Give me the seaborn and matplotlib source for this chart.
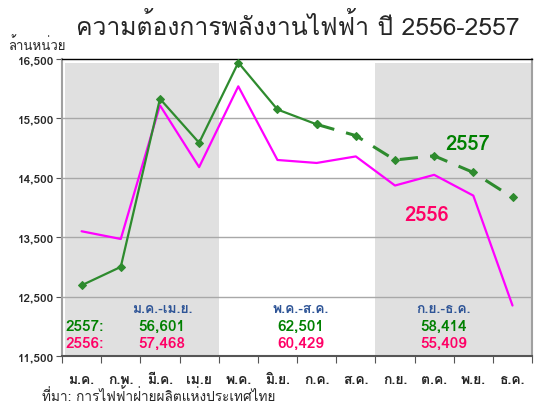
import pandas as pd
import seaborn as sns
import matplotlib
matplotlib.use("Agg")
import matplotlib.pyplot as plt
from matplotlib import font_manager, ft2font

months = ["ม.ค.", "ก.พ.", "มี.ค.", "เม.ย", "พ.ค.", "มิ.ย.", "ก.ค.", "ส.ค.",
          "ก.ย.", "ต.ค.", "พ.ย.", "ธ.ค."]
y2557 = [12690, 13000, 15830, 15090, 16440, 15650, 15400, 15210,
         14800, 14870, 14590, 14170]
y2556 = [13600, 13470, 15720, 14680, 16040, 14800, 14750, 14860,
         14370, 14550, 14200, 12350]
periods = ["ม.ค.-เม.ย.", "พ.ค.-ส.ค.", "ก.ย.-ธ.ค."]
sum2557 = ["56,601", "62,501", "58,414"]
sum2556 = ["57,468", "60,429", "55,409"]
yticks = [11500, 12500, 13500, 14500, 15500, 16500]

# find a font that has thai glyphs
thai_font = None
for f in font_manager.fontManager.ttflist:
    try:
        if 0x0E01 in ft2font.FT2Font(f.fname).get_charmap():
            thai_font = f.name
            break
    except Exception:
        pass

sns.set_style("white")
plt.rcParams['font.family'] = ([thai_font] if thai_font else []) + ['DejaVu Sans']

df = pd.DataFrame({"x": range(12), "y2557": y2557, "y2556": y2556})

fig = plt.figure(figsize=(5.36, 4.06), dpi=100)
ax = fig.add_axes([0.1157, 0.1207, 0.877, 0.7315])

# shaded periods
ax.axvspan(-0.42, 3.5, ymin=0, ymax=0.985, color="#E0E0E0", lw=0, zorder=0)
ax.axvspan(7.5, 11.5, ymin=0, ymax=0.985, color="#E0E0E0", lw=0, zorder=0)
for yv in yticks[1:-1]:
    ax.axhline(yv, color="#A8A8A8", lw=1, zorder=1)

green = "#2E8B2E"
sns.lineplot(data=df, x="x", y="y2556", color="#FF00FF", lw=1.6, ax=ax, zorder=3)
sns.lineplot(data=df.iloc[:7], x="x", y="y2557", color=green, lw=1.6, ax=ax,
             marker="D", markersize=4, markeredgecolor=green, zorder=4)
sns.lineplot(data=df.iloc[6:], x="x", y="y2557", color=green, lw=2.2, ax=ax,
             marker="D", markersize=4, markeredgecolor=green, zorder=4)
ax.lines[-1].set_dashes([6, 4])

ax.set_xlim(-0.5, 11.5)
ax.set_ylim(11500, 16500)
ax.set_yticks(yticks)
ax.set_yticklabels([f"{v:,}" for v in yticks], fontsize=8.5, fontweight="bold")
ax.set_xticks([i + 0.5 for i in range(-1, 12)])
ax.set_xticklabels([])
ax.set_xticks(range(12), minor=True)
ax.set_xticklabels(months, minor=True, fontsize=10, fontweight="bold")
ax.tick_params(axis="x", which="major", length=5, color="#555555", direction="out", bottom=True)
ax.tick_params(axis="x", which="minor", length=0, pad=13)
ax.tick_params(axis="y", length=4, color="#555555", direction="out", left=True, pad=2)
ax.set_xlabel("")
ax.set_ylabel("")

for s in ["left", "right"]:
    ax.spines[s].set_color("#A0A0A0")
    ax.spines[s].set_linewidth(1.5)
ax.spines["bottom"].set_color("#555555")
ax.spines["bottom"].set_linewidth(1.5)
ax.spines["top"].set_color("black")
ax.spines["top"].set_linewidth(1)

# period totals
blue = "#2F5597"
for px, per, a, b in zip([2.05, 5.6, 9.25], periods, sum2557, sum2556):
    ax.text(px, 12290, per, color=blue, fontsize=10, fontweight="bold", ha="center", va="center")
    ax.text(px, 12010, a, color="#008000", fontsize=11, fontweight="bold", ha="center", va="center")
    ax.text(px, 11720, b, color="#FF0066", fontsize=11, fontweight="bold", ha="center", va="center")
ax.text(-0.42, 12010, "2557:", color="#008000", fontsize=11, fontweight="bold", ha="left", va="center")
ax.text(-0.42, 11720, "2556:", color="#FF0066", fontsize=11, fontweight="bold", ha="left", va="center")

ax.text(9.86, 15070, "2557", color="#008000", fontsize=14.5, fontweight="bold", ha="center", va="center")
ax.text(8.8, 13890, "2556", color="#FF0066", fontsize=14.5, fontweight="bold", ha="center", va="center")

fig.text(0.555, 0.935, "ความต้องการพลังงานไฟฟ้า ปี 2556-2557", fontsize=17.8, ha="center", va="center")
fig.text(0.015, 0.89, "ล้านหน่วย", fontsize=9.5, ha="left", va="center")
fig.text(0.078, 0.005, "ที่มา: การไฟฟ้าฝ่ายผลิตแห่งประเทศไทย", fontsize=9.8, ha="left", va="bottom")

fig.savefig("out.png", dpi=100)
